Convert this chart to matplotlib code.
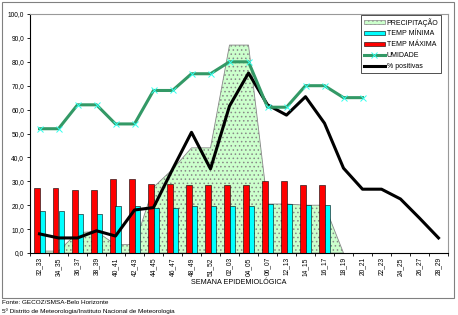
import numpy as np
import matplotlib
matplotlib.use('Agg')
import matplotlib.pyplot as plt
from matplotlib.patches import Rectangle, Patch
from matplotlib.lines import Line2D
from matplotlib.ticker import FuncFormatter

plt.rcParams['font.family'] = ['Liberation Sans', 'DejaVu Sans']
plt.rcParams['hatch.linewidth'] = 0.6

semanas = ['32_33', '34_35', '36_37', '38_39', '40_41', '42_43', '44_45', '46_47',
           '48_49', '51_52', '02_03', '04_05', '06_07', '12_13', '14_15', '16_17',
           '18_19', '20_21', '22_23', '24_25', '26_27', '28_29']

precipitacao = [0.8, 0.8, 8.5, 9.0, 3.5, 3.5, 27.5, 35.0, 44.0, 44.0, 87.0, 87.0,
                20.5, 20.5, 20.0, 20.0, 0.0]
temp_min = [17.5, 17.5, 16.5, 16.5, 19.5, 19.5, 19.0, 19.0, 19.5, 19.5, 19.5, 19.5,
            20.5, 20.5, 20.0, 20.0]
temp_max = [27.0, 27.0, 26.5, 26.5, 31.0, 31.0, 29.0, 29.0, 28.5, 28.5, 28.5, 28.5,
            30.0, 30.0, 28.5, 28.5]
umidade = [52, 52, 62, 62, 54, 54, 68, 68, 75, 75, 80, 80, 61, 61, 70, 70, 65, 65]
positivas = [8.0, 6.3, 6.3, 9.3, 7.1, 18.0, 19.0, 35.0, 50.5, 35.2, 61.5, 75.3,
             62.0, 57.7, 65.4, 54.3, 35.5, 26.7, 26.7, 22.6, 14.6, 6.3]

W, H = 458, 315
fig = plt.figure(figsize=(W / 100, H / 100), dpi=100)
ax = fig.add_axes([30 / W, 1 - 253 / H, 418 / W, 239 / H])

x_prec = np.arange(len(precipitacao))
ax.fill_between(x_prec, precipitacao, 0, facecolor='#ccffcc', edgecolor='#888888',
                hatch='....', linewidth=0.6, zorder=1)

bw = 0.29
x_t = np.arange(len(temp_max))
ax.bar(x_t - bw / 2, temp_max, bw, color='#ff0000', edgecolor='black', linewidth=0.4, zorder=2)
ax.bar(x_t + bw / 2, temp_min, bw, color='#00ffff', edgecolor='black', linewidth=0.4, zorder=2)

ax.plot(np.arange(len(positivas)), positivas, color='black', lw=2.2, zorder=3)
ax.plot(np.arange(len(umidade)), umidade, color='#339966', lw=2.2, marker='x',
        markersize=5, markeredgecolor='#33ffee', markeredgewidth=0.7, zorder=4)

ax.set_xlim(-0.5, len(semanas) - 0.5)
ax.set_ylim(0, 100)
ax.set_yticks(np.arange(0, 101, 10))
ax.yaxis.set_major_formatter(FuncFormatter(lambda v, p: f'{v:.1f}'.replace('.', ',')))
ax.tick_params(axis='y', labelsize=4.8, length=2.2, width=0.6, pad=2)

ax.set_xticks(np.arange(len(semanas) + 1) - 0.5)
ax.set_xticklabels([])
ax.set_xticks(np.arange(len(semanas)), minor=True)
ax.set_xticklabels(semanas, minor=True, rotation=90, fontsize=4.8)
ax.tick_params(axis='x', which='major', length=2.2, width=0.6)
ax.tick_params(axis='x', which='minor', length=0, pad=3)
ax.set_xlabel('SEMANA EPIDEMIOLÓGICA', fontsize=5.2, labelpad=2)

for s in ['top', 'right']:
    ax.spines[s].set_color('#999999')
    ax.spines[s].set_linewidth(0.8)
for s in ['left', 'bottom']:
    ax.spines[s].set_linewidth(0.8)

handles = [
    Patch(facecolor='#ccffcc', edgecolor='#888888', hatch='....', linewidth=0.5),
    Patch(facecolor='#00ffff', edgecolor='black', linewidth=0.4),
    Patch(facecolor='#ff0000', edgecolor='black', linewidth=0.4),
    Line2D([], [], color='#339966', lw=2.2, marker='x', markersize=4,
           markeredgecolor='#33ffee', markeredgewidth=0.7),
    Line2D([], [], color='black', lw=2.2),
]
labels = ['PRECIPITAÇÃO', 'TEMP MÍNIMA', 'TEMP MÁXIMA', 'UMIDADE', '% positivas']
leg = fig.legend(handles, labels, loc='upper left', bbox_to_anchor=(361 / W, 1 - 15 / H),
                 fontsize=5, frameon=True, fancybox=False, edgecolor='black',
                 borderpad=0.4, labelspacing=0.55, handlelength=3.0, handleheight=0.5,
                 handletextpad=0.3, borderaxespad=0)
leg.get_frame().set_linewidth(0.6)

fig.patches.append(Rectangle((2 / W, 1 - 298 / H), 452 / W, 296 / H, transform=fig.transFigure,
                             fill=False, edgecolor='#808080', linewidth=0.8))

fig.text(2 / W, 1 - 303 / H, 'Fonte: GECOZ/SMSA-Belo Horizonte', fontsize=4.6, va='center')
fig.text(2 / W, 1 - 311 / H, '5º Distrito de Meteorologia/Instituto Nacional de Meteorologia',
         fontsize=4.6, va='center')

fig.savefig('out.png', dpi=100)
